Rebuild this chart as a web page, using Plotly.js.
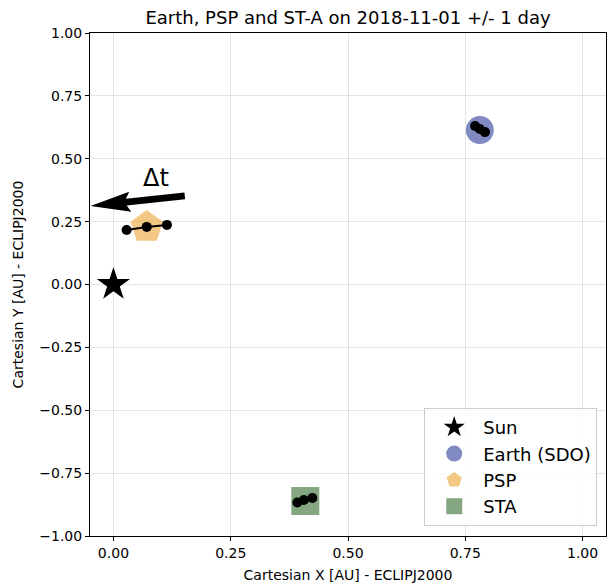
<!DOCTYPE html>
<html>
<head>
<meta charset="utf-8">
<script src="https://cdn.plot.ly/plotly-3.0.1.min.js"></script>
<style>html,body{margin:0;padding:0;background:#fff}#chart{width:608px;height:584px}</style>
</head>
<body>
<div id="chart"></div>
<script>
// Body positions (AU, ECLIPJ2000)
const bodyNames = ["Sun", "Earth (SDO)", "PSP", "STA"];
const bodyX = [0.0, 0.781, 0.071, 0.409];
const bodyY = [0.0, 0.614, 0.229, -0.861];

// Positions at t-1 day, t, t+1 day
const earthTrackX = [0.771, 0.781, 0.792];
const earthTrackY = [0.630, 0.618, 0.606];
const pspTrackX = [0.028, 0.071, 0.114];
const pspTrackY = [0.217, 0.229, 0.237];
const staTrackX = [0.392, 0.406, 0.424];
const staTrackY = [-0.867, -0.857, -0.849];

// Δt arrow (tail -> head) and label
const arrowTail = [0.152, 0.352];
const arrowHead = [-0.049, 0.312];
const dtLabel = [0.090, 0.423];

const xTicks = [0, 0.25, 0.5, 0.75, 1.0];
const xTickText = ["0.00", "0.25", "0.50", "0.75", "1.00"];
const yTicks = [-1, -0.75, -0.5, -0.25, 0, 0.25, 0.5, 0.75, 1.0];
const yTickText = ["\u22121.00", "\u22120.75", "\u22120.50", "\u22120.25", "0.00", "0.25", "0.50", "0.75", "1.00"];

const symbols = ["star", "circle", "pentagon", "square"];
const colors = ["#000000", "rgba(77,88,170,0.7)", "rgba(238,175,80,0.7)", "rgba(80,130,76,0.7)"];
const sizes = [25, 28, 34, 28];

const traces = [];
for (let i = 0; i < bodyNames.length; i++) {
  traces.push({
    type: "scatter", mode: "markers", name: bodyNames[i], legendgroup: "g" + i,
    x: [bodyX[i]], y: [bodyY[i]],
    marker: {symbol: symbols[i], color: colors[i], size: sizes[i], line: {width: 0}},
    showlegend: true
  });
}
const tracks = [[earthTrackX, earthTrackY], [pspTrackX, pspTrackY], [staTrackX, staTrackY]];
for (const [tx, ty] of tracks) {
  traces.push({
    type: "scatter", mode: "lines+markers", x: tx, y: ty,
    line: {color: "#000", width: 2},
    marker: {color: "#000", size: 10, symbol: "circle"},
    showlegend: false, hoverinfo: "skip"
  });
}

const font = "DejaVu Sans, sans-serif";
const layout = {
  width: 608, height: 584,
  margin: {l: 90, r: 2, t: 33, b: 48},
  paper_bgcolor: "#fff", plot_bgcolor: "#fff",
  font: {family: font, color: "#000", size: 14},
  title: {text: "Earth, PSP and ST-A on 2018-11-01 +/- 1 day", font: {family: font, size: 18, color: "#000"},
          x: 0.5, xref: "paper", xanchor: "center", y: 1 - 18 / 584, yanchor: "middle", yref: "container"},
  xaxis: {
    range: [-0.05, 1.05], tickvals: xTicks, ticktext: xTickText,
    showgrid: true, gridcolor: "rgba(0,0,0,0.1)", gridwidth: 1, zeroline: false,
    showline: true, linecolor: "#000", linewidth: 1, mirror: true,
    ticks: "outside", ticklen: 4, tickcolor: "#000",
    tickfont: {family: font, size: 14},
    title: {text: "Cartesian X [AU] - ECLIPJ2000", font: {family: font, size: 14}, standoff: 10}
  },
  yaxis: {
    range: [-1, 1], tickvals: yTicks, ticktext: yTickText,
    showgrid: true, gridcolor: "rgba(0,0,0,0.1)", gridwidth: 1, zeroline: false,
    showline: true, linecolor: "#000", linewidth: 1, mirror: true,
    ticks: "outside", ticklen: 4, tickcolor: "#000",
    tickfont: {family: font, size: 14},
    title: {text: "Cartesian Y [AU] - ECLIPJ2000", font: {family: font, size: 14}, standoff: 12}
  },
  legend: {
    x: 0.983, y: 0.02, xanchor: "right", yanchor: "bottom",
    bgcolor: "rgba(255,255,255,0.8)", bordercolor: "#cccccc", borderwidth: 1,
    font: {family: font, size: 18}, itemsizing: "trace", itemwidth: 48,
    tracegroupgap: 0
  },
  annotations: [
    {
      x: dtLabel[0], y: dtLabel[1], xref: "x", yref: "y", text: "\u0394t", showarrow: false,
      font: {family: font, size: 24, color: "#000"}
    }
  ]
};

Plotly.newPlot("chart", traces, layout, {displayModeBar: false, staticPlot: true}).then(function (gd) {
  // Build a filled arrow (shaft + head) in pixel space, then map back to data coordinates.
  const xa = gd._fullLayout.xaxis, ya = gd._fullLayout.yaxis;
  const T = [xa.l2p(arrowHead[0]), ya.l2p(arrowHead[1])];
  const S = [xa.l2p(arrowTail[0]), ya.l2p(arrowTail[1])];
  const dx = S[0] - T[0], dy = S[1] - T[1];
  const len = Math.hypot(dx, dy);
  const d = [dx / len, dy / len], n = [-d[1], d[0]];
  const headLen = 40, headHalf = 10, shaftHalf = 3.4;
  const pt = (base, a, b) => [base[0] + d[0] * a + n[0] * b, base[1] + d[1] * a + n[1] * b];
  const poly = [
    T,
    pt(T, headLen, headHalf),
    pt(T, headLen - 4, shaftHalf),
    pt(S, 0, shaftHalf),
    pt(S, 0, -shaftHalf),
    pt(T, headLen - 4, -shaftHalf),
    pt(T, headLen, -headHalf)
  ];
  const path = poly.map((p, i) => (i ? "L" : "M") + xa.p2l(p[0]) + "," + ya.p2l(p[1])).join(" ") + " Z";
  Plotly.relayout(gd, {shapes: [{type: "path", xref: "x", yref: "y", path: path, fillcolor: "#000", line: {width: 0}}]});
});
</script>
</body>
</html>
